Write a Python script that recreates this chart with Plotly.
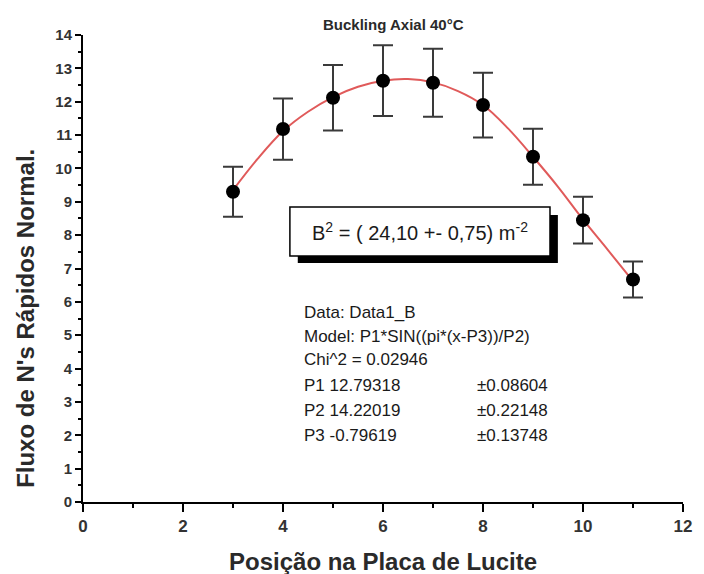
import plotly.graph_objects as go

# Data
positions = [3, 4, 5, 6, 7, 8, 9, 10, 11]
flux = [9.30, 11.18, 12.12, 12.63, 12.57, 11.90, 10.35, 8.45, 6.67]
flux_err = [0.75, 0.92, 0.98, 1.06, 1.02, 0.97, 0.84, 0.70, 0.54]

fit_x = [3, 3.5, 4, 4.5, 5, 5.5, 6, 6.5, 7, 7.5, 8, 8.5, 9, 9.5, 10, 10.5, 11]
fit_y = [9.35, 10.30, 11.12, 11.70, 12.14, 12.45, 12.63, 12.68, 12.58, 12.32, 11.90, 11.20, 10.35, 9.45, 8.47, 7.55, 6.62]

x_ticks = [0, 2, 4, 6, 8, 10, 12]
y_ticks = list(range(0, 15))

title_text = "Buckling Axial 40°C"
x_title = "Posição na Placa de Lucite"
y_title = "Fluxo de N's Rápidos Normal."
box_text = "B<sup>2</sup> = ( 24,10 +- 0,75) m<sup>-2</sup>"
info_lines = [
    "Data: Data1_B",
    "Model: P1*SIN((pi*(x-P3))/P2)",
    "Chi^2 = 0.02946",
]
param_names = ["P1 12.79318", "P2 14.22019", "P3 -0.79619"]
param_errs = ["±0.08604", "±0.22148", "±0.13748"]

FONT = "Liberation Sans, Arial, sans-serif"

fig = go.Figure()
fig.add_trace(go.Scatter(
    x=fit_x, y=fit_y, mode="lines", line=dict(color="#e05a5a", width=2, shape="spline"),
    hoverinfo="skip", showlegend=False))
fig.add_trace(go.Scatter(
    x=positions, y=flux, mode="markers",
    marker=dict(color="black", size=14),
    error_y=dict(type="data", array=flux_err, color="#3a3a3a", thickness=2, width=10),
    showlegend=False))

OFF = 8  # page body margin
W, H = 696, 566
L, R, T, B = 75, 12, 27, 72
pw, ph = W - L - R, H - T - B

def px(xp):
    return (xp - OFF - L) / pw

def py(yp):
    return (OFF + T + ph - yp) / ph

shapes = [
    dict(type="rect", xref="paper", yref="paper", x0=px(301), x1=px(565), y0=py(263), y1=py(215),
         fillcolor="black", line=dict(width=0), layer="above"),
    dict(type="rect", xref="paper", yref="paper", x0=px(293), x1=px(557), y0=py(256), y1=py(207),
         fillcolor="white", line=dict(color="black", width=1.5), layer="above"),
]

def ann(text, x, y, size, xanchor="center", angle=0, color="#1a1a1a"):
    return dict(text=text, xref="paper", yref="paper", x=px(x), y=py(y), showarrow=False,
                xanchor=xanchor, yanchor="middle", textangle=angle,
                font=dict(size=size, color=color, family=FONT))

annotations = [
    ann("<b>" + title_text + "</b>", 398, 24, 15, color="#2a2a2a"),
    ann(box_text, 425, 232, 20),
    ann("<b>" + x_title + "</b>", 388, 561, 24, color="#2a2a2a"),
    ann("<b>" + y_title + "</b>", 24, 318, 24, angle=-90, color="#2a2a2a"),
]
line_y = [312, 336, 360, 385, 410, 435]
for t, yy in zip(info_lines + param_names, line_y):
    annotations.append(ann(t, 305, yy, 17, xanchor="left"))
for t, yy in zip(param_errs, line_y[3:]):
    annotations.append(ann(t, 481, yy, 17, xanchor="left"))

fig.update_layout(
    width=W, height=H, margin=dict(l=L, r=R, t=T, b=B),
    plot_bgcolor="white", paper_bgcolor="white",
    shapes=shapes, annotations=annotations,
    xaxis=dict(range=[0, 12], tickvals=x_ticks, showgrid=False, zeroline=False,
               showline=True, linecolor="black", linewidth=2, ticks="outside", ticklen=8,
               tickwidth=1.5, tickcolor="black",
               minor=dict(dtick=1, ticks="outside", ticklen=4, tickcolor="black"),
               tickfont=dict(size=17, color="#333", family=FONT, weight="bold")),
    yaxis=dict(range=[0, 14], tickvals=y_ticks, showgrid=False, zeroline=False,
               showline=True, linecolor="black", linewidth=2, ticks="outside", ticklen=6,
               tickwidth=1.5, tickcolor="black",
               minor=dict(dtick=0.5, ticks="outside", ticklen=3, tickcolor="black"),
               tickfont=dict(size=15, color="#333", family=FONT, weight="bold")),
)

fig.write_html("out.html")
